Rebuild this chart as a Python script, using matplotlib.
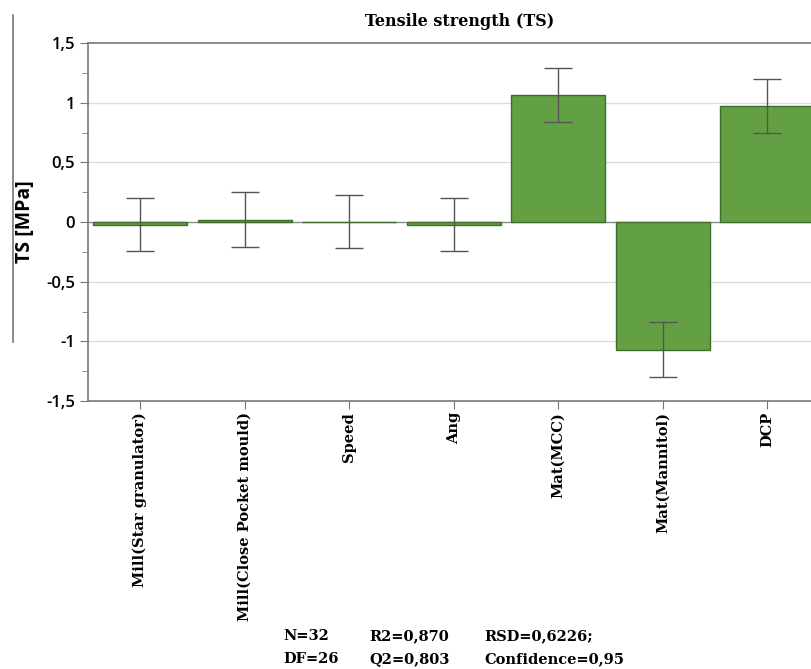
import matplotlib
matplotlib.use("Agg")
import matplotlib.pyplot as plt
from matplotlib.lines import Line2D
from matplotlib.ticker import MultipleLocator, FuncFormatter

terms = ["Mill(Star granulator)", "Mill(Close Pocket mould)", "Speed", "Ang",
         "Mat(MCC)", "Mat(Mannitol)", "DCP"]
coef = [-0.022, 0.018, 0.004, -0.022, 1.065, -1.072, 0.972]
conf = [0.225, 0.230, 0.225, 0.225, 0.225, 0.230, 0.230]

stats_row1 = ["N=32", "R2=0,870", "RSD=0,6226;"]
stats_row2 = ["DF=26", "Q2=0,803", "Confidence=0,95"]

serif = "DejaVu Serif"
sans = "Open Sans"

fig = plt.figure(figsize=(8.11, 6.69), dpi=100)
ax = fig.add_axes([88 / 811, 1 - 401 / 669, 1 - 88 / 811, 358 / 669])

x = list(range(len(terms)))
ax.axhline(0, color="#8c8c8c", lw=1.0, zorder=1)
for g in [-1, -0.5, 0.5, 1]:
    ax.axhline(g, color="#dcdcdc", lw=1.0, zorder=0)

ax.bar(x, coef, width=0.9, color="#62a043", edgecolor="#3f6e2c", linewidth=1.0, zorder=2)
ax.errorbar(x, coef, yerr=conf, fmt="none", ecolor="#555555", elinewidth=1.0,
            capsize=10, capthick=1.0, zorder=3)

ax.set_xlim(-0.5, (811 - 88) / 104.5 - 0.5)
ax.set_ylim(-1.5, 1.5)
ax.yaxis.set_major_locator(MultipleLocator(0.5))
ax.yaxis.set_minor_locator(MultipleLocator(0.25))
ax.yaxis.set_major_formatter(FuncFormatter(lambda v, p: ("%g" % v).replace(".", ",")))

ax.set_xticks(x)
ax.set_xticklabels(terms, rotation=90, fontfamily=serif, fontweight="bold", fontsize=10.5)
for lab in ax.get_yticklabels():
    lab.set_fontfamily(sans)
    lab.set_fontsize(12)
    lab.set_fontweight("semibold")

ax.tick_params(axis="both", which="both", color="#777777", direction="out")
ax.tick_params(axis="x", length=6, pad=2)
ax.tick_params(axis="y", which="major", length=6)
ax.tick_params(axis="y", which="minor", length=4)

for side in ["left", "top", "bottom"]:
    ax.spines[side].set_color("#777777")
    ax.spines[side].set_linewidth(1.2)
ax.spines["right"].set_visible(False)

fig.text(460 / 811, 1 - 22 / 669, "Tensile strength (TS)", fontfamily=serif,
         fontweight="bold", fontsize=11.5, ha="center", va="center")
fig.text(25 / 811, 1 - 222 / 669, "TS [MPa]", fontfamily=sans, fontweight="bold",
         fontsize=14, rotation=90, ha="center", va="center")
fig.add_artist(Line2D([13 / 811, 13 / 811], [1 - 15 / 669, 1 - 342 / 669],
                      color="#777777", lw=1.2))

cols = [283, 369, 484]
for cx, t in zip(cols, stats_row1):
    fig.text(cx / 811, 1 - 636 / 669, t, fontfamily=serif, fontweight="bold",
             fontsize=10.5, ha="left", va="center")
for cx, t in zip(cols, stats_row2):
    fig.text(cx / 811, 1 - 659 / 669, t, fontfamily=serif, fontweight="bold",
             fontsize=10.5, ha="left", va="center")

fig.savefig("out.png", dpi=100)
